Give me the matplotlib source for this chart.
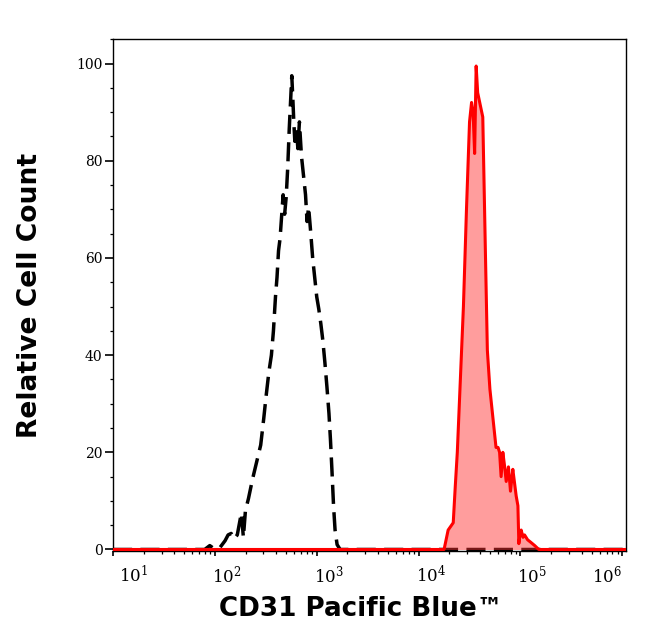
import numpy as np
import matplotlib
matplotlib.use("Agg")
import matplotlib.pyplot as plt
import matplotlib.transforms as mtransforms
from matplotlib.ticker import MultipleLocator, LogLocator, NullFormatter

# ---- data (log10 of fluorescence, relative count) ----
black_logx = [1.0, 1.90, 1.95, 1.99, 2.05, 2.10, 2.13, 2.16, 2.19, 2.22, 2.26, 2.28,
              2.30, 2.33, 2.37, 2.41, 2.45, 2.48, 2.50, 2.53, 2.555, 2.575, 2.595,
              2.61, 2.625, 2.64, 2.66, 2.67, 2.685, 2.70, 2.715, 2.73, 2.745, 2.755,
              2.765, 2.775, 2.785, 2.80, 2.815, 2.83, 2.85, 2.87, 2.89, 2.905, 2.92,
              2.94, 2.96, 2.98, 3.00, 3.02, 3.04, 3.06, 3.08, 3.10, 3.12, 3.135,
              3.15, 3.165, 3.18, 3.20, 3.23, 6.05]
black_val = [0, 0, 0.8, 0.2, 0.4, 1.8, 3.0, 3.3, 2.2, 3.0, 7.5, 2.5,
             8.0, 10.5, 14.5, 18.0, 21.5, 27.0, 31.0, 36.5, 40.0, 45.0, 52.0,
             56.0, 61.5, 64.0, 70.0, 73.0, 69.0, 72.5, 78.5, 86.5, 93.0, 97.5,
             93.0, 88.0, 84.0, 86.5, 82.5, 88.0, 81.0, 77.0, 73.0, 67.5, 70.5,
             65.5, 60.0, 56.0, 52.0, 49.5, 46.5, 43.0, 38.5, 33.5, 28.0, 22.5,
             16.0, 9.0, 4.0, 1.0, 0, 0]

red_logx = [1.0, 4.22, 4.25, 4.29, 4.34, 4.36, 4.38, 4.42, 4.44, 4.47, 4.50, 4.52,
            4.535, 4.55, 4.565, 4.58, 4.60, 4.63, 4.655, 4.675, 4.70, 4.73, 4.76,
            4.78, 4.795, 4.81, 4.827, 4.845, 4.86, 4.882, 4.902, 4.925, 4.94, 4.958,
            4.975, 4.984, 4.995, 5.007, 5.025, 5.04, 5.07, 5.10, 5.14, 5.18, 6.05]
red_val = [0, 0, 0, 4.0, 5.5, 13, 20, 40, 50, 70, 88, 92,
           90, 81.5, 99.5, 94, 92, 89, 62, 41, 33, 27, 21,
           21, 20, 15, 20, 17, 14, 17, 12, 16.5, 14, 11,
           9, 1.2, 3, 4, 2.5, 3, 2, 1.5, 0.8, 0, 0]

xtick_exps = [1, 2, 3, 4, 5, 6]
ytick_vals = [0, 20, 40, 60, 80, 100]

xlabel_text = "CD31 Pacific Blue\u2122"
ylabel_text = "Relative Cell Count"

plt.rcParams['mathtext.fontset'] = 'dejavuserif'

fig = plt.figure(figsize=(6.46, 6.41), dpi=100)
W, H = 646, 641
L, R, T, B = 113, 626, 39.3, 550.7
ax = fig.add_axes([L / W, 1 - B / H, (R - L) / W, (B - T) / H])

bx = 10 ** np.array(black_logx)
rx = 10 ** np.array(red_logx)

ax.plot(bx, black_val, color='black', lw=2.5, dashes=(5.5, 2.4), zorder=2)
ax.fill_between(rx, 0, red_val, color='#ff3030', alpha=0.47, lw=0, zorder=3)
ax.plot(rx, red_val, color='#ff0000', lw=2.2, zorder=4)

ax.set_xscale('log')
ax.set_xlim(10 ** 1.0, 10 ** 6.036)
ax.set_ylim(-0.25, 105)

ax.set_xticks([10.0 ** e for e in xtick_exps])
ax.set_xticklabels([r'$10^{%d}$' % e for e in xtick_exps])
ax.xaxis.set_minor_locator(LogLocator(base=10, subs=np.arange(2, 10), numticks=20))
ax.xaxis.set_minor_formatter(NullFormatter())

ax.set_yticks(ytick_vals)
ax.set_yticklabels([str(v) for v in ytick_vals])
ax.yaxis.set_minor_locator(MultipleLocator(5))

for s in ax.spines.values():
    s.set_linewidth(1.0)

ax.tick_params(axis='x', which='major', length=3.5, width=1.2, labelsize=12, pad=6.5)
ax.tick_params(axis='x', which='minor', length=2.2, width=0.9)
ax.tick_params(axis='y', which='major', length=5.5, width=1.2, labelsize=10, pad=2)
ax.tick_params(axis='y', which='minor', length=2.5, width=0.9)

for lab in ax.get_yticklabels():
    lab.set_fontfamily('DejaVu Serif')

xlabs = ax.get_xticklabels()
for i, lab in enumerate(xlabs):
    if i == len(xlabs) - 1:
        lab.set_horizontalalignment('right')
    else:
        dx = 6 if i == 0 else -3
        lab.set_horizontalalignment('left')
        lab.set_transform(lab.get_transform() +
                          mtransforms.ScaledTranslation(dx / 100, 0, fig.dpi_scale_trans))

ax.set_xlabel(xlabel_text, fontsize=18.8, fontweight='bold', family='DejaVu Sans')
ax.set_ylabel(ylabel_text, fontsize=19.1, fontweight='bold', family='DejaVu Sans')
ax.xaxis.set_label_coords((361 - L) / (R - L), (B - 596) / (B - T))
ax.yaxis.set_label_coords((43 - L) / (R - L), 0.5)

fig.savefig('out.png', dpi=100)
